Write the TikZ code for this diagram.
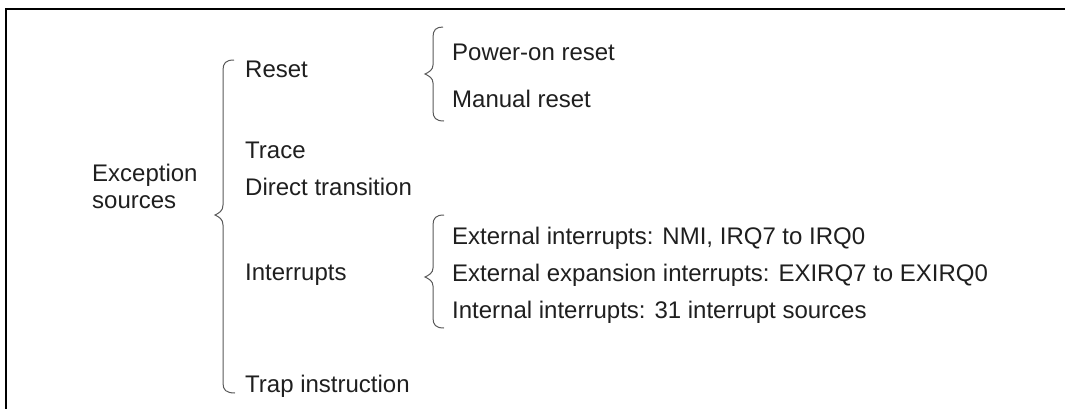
\documentclass[tikz,border=0pt]{standalone}
\usepackage{fontspec}
\setmainfont{Liberation Sans}
\begin{document}
\begin{tikzpicture}[x=1pt,y=-1pt,
  lbl/.style={anchor=base west,inner sep=0pt,text=black!88,font=\fontsize{24}{27}\selectfont},
  brace/.style={draw=black!65,line width=1pt},
  frame/.style={draw=black,line width=2.2pt}]
\useasboundingbox (0,0) rectangle (1065,408);
\draw[frame] (6,420) -- (6,9) -- (1070,9);
% texts
\node[lbl,align=left] (exc) at (92,208) {Exception\\sources};
\node[lbl] (reset) at (245,77) {Reset};
\node[lbl] (trace) at (245,158) {Trace};
\node[lbl] (direct) at (245,195) {Direct transition};
\node[lbl] (intr) at (245,280) {Interrupts};
\node[lbl] (trap) at (245,392) {Trap instruction};
\node[lbl] (pow) at (452,60) {Power-on reset};
\node[lbl] (man) at (452,107) {Manual reset};
\node[lbl] (ext1) at (452,244) {External interrupts: NMI, IRQ7 to IRQ0};
\node[lbl] (ext2) at (452,281) {External expansion interrupts: EXIRQ7 to EXIRQ0};
\node[lbl] (int) at (452,318) {Internal interrupts: 31 interrupt sources};
% big brace
\draw[brace] (234,60) .. controls (226,60) and (223,63) .. (223,70)
  -- (223,205) .. controls (223,211) and (219,213) .. (215,215)
  .. controls (219,217) and (223,219) .. (223,225)
  -- (223,383) .. controls (223,390) and (226,393) .. (235,393);
% reset brace
\draw[brace] (443,27) .. controls (436,27) and (433,30) .. (433,37)
  -- (433,65) .. controls (433,70) and (429,72) .. (425,74)
  .. controls (429,76) and (433,78) .. (433,83)
  -- (433,111) .. controls (433,118) and (436,121) .. (444,121);
% interrupts brace
\draw[brace] (444,215) .. controls (436,215) and (433,218) .. (433,225)
  -- (433,268) .. controls (433,273) and (429,275) .. (425,277)
  .. controls (429,279) and (433,281) .. (433,286)
  -- (433,318) .. controls (433,325) and (436,328) .. (444,328);
\end{tikzpicture}
\end{document}
